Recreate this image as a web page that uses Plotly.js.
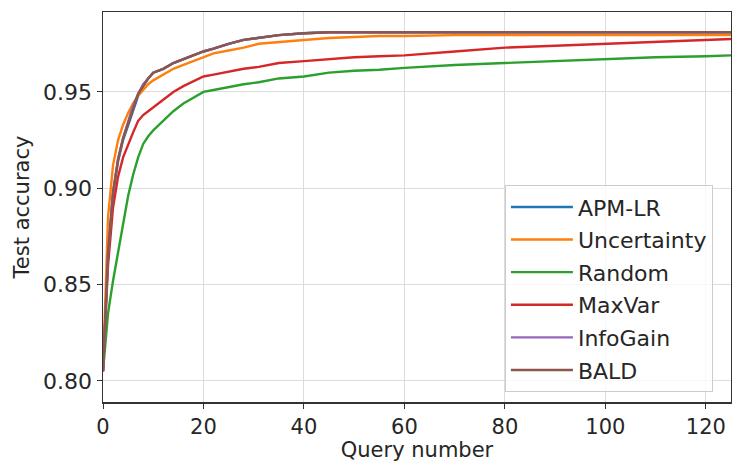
<!DOCTYPE html>
<html>
<head>
<meta charset="utf-8">
<script src="https://cdn.plot.ly/plotly-3.0.1.min.js"></script>
<style>html,body{margin:0;padding:0;background:#fff;}#chart{width:732px;height:462px;}</style>
</head>
<body>
<div id="chart"></div>
<script>
var queries = [0,1,2,3,4,5,6,7,8,9,10,12,14,16,18,20,22,25,28,31,35,40,45,50,55,60,70,80,90,100,110,120,125];

var apmLR = [0.805,0.865,0.897,0.914,0.925,0.933,0.941,0.948,0.953,0.957,0.960,0.962,0.965,0.967,0.969,0.971,0.9725,0.975,0.977,0.978,0.9795,0.9805,0.981,0.981,0.981,0.981,0.981,0.981,0.981,0.981,0.981,0.981,0.981];
var uncertainty = [0.805,0.885,0.912,0.925,0.933,0.939,0.944,0.948,0.951,0.954,0.956,0.959,0.962,0.964,0.966,0.968,0.970,0.9715,0.973,0.975,0.976,0.977,0.978,0.9785,0.979,0.979,0.9795,0.9795,0.9795,0.9795,0.9795,0.9795,0.9795];
var random = [0.805,0.835,0.852,0.867,0.882,0.896,0.907,0.916,0.923,0.927,0.930,0.935,0.940,0.944,0.947,0.950,0.951,0.9525,0.954,0.955,0.957,0.958,0.960,0.961,0.9615,0.9625,0.964,0.965,0.966,0.967,0.968,0.9685,0.969];
var maxVar = [0.805,0.860,0.890,0.906,0.916,0.923,0.929,0.935,0.938,0.940,0.942,0.946,0.950,0.953,0.9555,0.958,0.959,0.9605,0.962,0.963,0.965,0.966,0.967,0.968,0.9685,0.969,0.971,0.973,0.974,0.975,0.976,0.977,0.9775];
var infoGain = [0.805,0.866,0.898,0.915,0.926,0.935,0.943,0.949,0.954,0.957,0.960,0.962,0.965,0.967,0.969,0.971,0.9725,0.975,0.977,0.978,0.9795,0.9805,0.981,0.981,0.981,0.981,0.981,0.981,0.981,0.981,0.981,0.981,0.981];
var bald = [0.805,0.866,0.898,0.915,0.926,0.934,0.942,0.949,0.953,0.957,0.960,0.962,0.965,0.967,0.969,0.971,0.9725,0.975,0.977,0.978,0.9795,0.9805,0.981,0.981,0.981,0.981,0.981,0.981,0.981,0.981,0.981,0.981,0.981];

var names = ["APM-LR","Uncertainty","Random","MaxVar","InfoGain","BALD"];
var seriesList = [apmLR, uncertainty, random, maxVar, infoGain, bald];
var colors = ["#1f77b4","#ff7f0e","#2ca02c","#d62728","#9467bd","#8c564b"];

var traces = seriesList.map(function(s, i){
  return {x: queries, y: s, type: "scatter", mode: "lines", name: names[i],
    legendgroup: "g" + i,
    line: {color: colors[i], width: 2.4}};
});

var font = {family: "DejaVu Sans, sans-serif", size: 21, color: "#262626"};
var layout = {
  width: 732, height: 462,
  margin: {l: 103, r: 1, t: 12, b: 60},
  paper_bgcolor: "#fff", plot_bgcolor: "#fff",
  font: font,
  showlegend: true,
  legend: {x: 0.64, y: 0.556, xanchor: "left", yanchor: "top",
    bgcolor: "rgba(255,255,255,0.8)", bordercolor: "#cccccc", borderwidth: 1,
    font: {family: "DejaVu Sans, sans-serif", size: 22, color: "#262626"},
    tracegroupgap: 1, itemwidth: 62},
  xaxis: {range: [0, 125], tickvals: [0,20,40,60,80,100,120],
    showgrid: true, gridcolor: "#dcdcdc", gridwidth: 1, zeroline: false,
    showline: true, linecolor: "#333", linewidth: 1.5, mirror: true,
    ticks: "outside", ticklen: 5, tickcolor: "#333",
    tickfont: {family: "DejaVu Sans, sans-serif", size: 21, color: "#262626"},
    title: {text: "Query number", font: font, standoff: 10}},
  yaxis: {range: [0.789, 0.9915], tickvals: [0.80,0.85,0.90,0.95], tickformat: ".2f",
    showgrid: true, gridcolor: "#dcdcdc", gridwidth: 1, zeroline: false,
    showline: true, linecolor: "#333", linewidth: 1.5, mirror: true,
    ticks: "outside", ticklen: 5, tickcolor: "#333",
    tickfont: {family: "DejaVu Sans, sans-serif", size: 22, color: "#262626"},
    title: {text: "Test accuracy", font: font, standoff: 8}}
};
Plotly.newPlot("chart", traces, layout, {staticPlot: true, displayModeBar: false});
</script>
</body>
</html>
